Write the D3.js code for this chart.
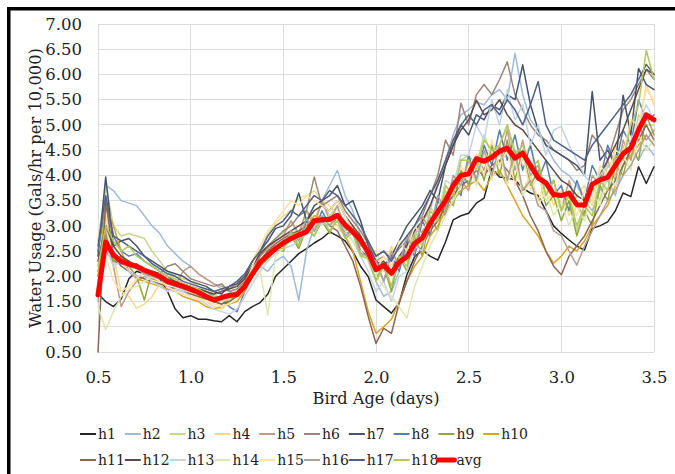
<!DOCTYPE html>
<html><head><meta charset="utf-8">
<script src="https://cdn.jsdelivr.net/npm/d3@7"></script>
<style>html,body{margin:0;padding:0;background:#fff;} svg{display:block}</style>
</head><body><svg id="c" width="675" height="474"></svg>
<script>
// ---- data ----
const xTicks = [0.5, 1.0, 1.5, 2.0, 2.5, 3.0, 3.5];
const yTicks = [0.5, 1.0, 1.5, 2.0, 2.5, 3.0, 3.5, 4.0, 4.5, 5.0, 5.5, 6.0, 6.5, 7.0];
const ageStart = 0.5, ageStep = 1 / 24; // hourly samples, in days

const h1 = [1.65,1.50,1.40,1.55,1.95,2.10,2.05,2.00,1.95,1.70,1.35,1.18,
  1.22,1.15,1.15,1.12,1.10,1.22,1.10,1.30,1.40,1.48,1.65,2.00,
  2.15,2.30,2.45,2.55,2.66,2.75,2.88,2.80,2.70,2.49,2.20,1.99,
  1.53,1.40,1.27,1.47,2.03,2.39,2.52,2.40,2.32,2.68,3.12,3.20,
  3.25,3.45,3.55,4.14,3.97,3.95,3.91,3.75,3.65,3.60,3.30,3.00,
  2.85,2.72,2.60,2.52,2.95,3.00,3.08,3.30,3.65,3.58,4.17,3.84,4.17];
const h2 = [2.50,3.80,3.70,3.50,3.45,3.40,3.20,3.00,2.85,2.60,2.45,2.30,
  2.20,2.05,1.95,1.85,1.75,1.70,1.60,1.80,2.00,2.20,2.10,2.30,
  2.40,2.20,1.53,2.50,3.00,3.50,3.80,4.10,3.60,3.30,2.80,2.30,
  1.90,1.60,1.70,2.10,2.60,2.80,3.10,3.30,3.90,4.30,4.80,5.20,
  5.30,5.45,5.40,5.60,5.70,5.50,6.42,5.60,5.10,4.90,4.60,4.30,
  4.10,4.00,3.80,3.50,3.30,3.70,3.90,3.60,4.20,4.50,4.30,4.60,4.40];
const h3 = [2.70,3.80,3.00,2.80,2.85,2.80,2.75,2.50,2.30,2.10,2.00,1.95,
  1.90,1.80,1.70,1.65,1.55,1.60,1.70,1.90,2.20,2.50,2.60,2.75,
  2.85,3.10,2.80,3.30,3.10,3.50,3.20,3.40,2.95,3.00,2.50,2.40,
  1.95,2.30,1.80,2.40,2.30,2.90,2.60,3.40,3.10,3.70,3.50,4.30,
  4.40,4.20,4.80,4.40,4.60,5.00,4.50,4.30,4.60,4.00,3.80,3.90,
  3.30,3.70,2.90,3.40,3.80,3.50,4.20,4.00,4.60,4.30,5.20,5.00,5.00];
const h4 = [2.20,3.20,2.40,1.70,1.60,1.37,1.45,1.60,1.85,1.70,1.80,1.75,
  1.70,1.60,1.50,1.40,1.35,1.50,1.65,1.95,2.30,2.60,2.85,3.05,
  3.20,3.30,3.55,3.60,3.70,3.50,3.40,3.20,3.00,2.85,2.70,2.50,
  2.50,2.10,2.60,2.20,2.80,2.50,3.20,2.90,3.50,3.30,4.00,3.80,
  4.40,3.90,4.50,4.00,4.60,3.90,4.40,3.70,4.00,3.50,3.90,3.40,
  3.70,3.20,3.60,3.80,3.40,4.10,3.90,4.60,4.30,5.10,4.90,5.80,5.40];
const h5 = [1.80,2.90,2.20,1.40,1.70,1.90,2.00,1.95,1.90,1.85,1.80,2.10,
  2.20,2.05,1.95,1.85,1.80,1.75,1.85,1.95,2.20,2.40,2.55,2.70,
  2.80,3.10,2.85,3.30,3.00,3.50,3.10,3.40,2.90,3.00,2.60,2.70,
  2.30,2.40,2.20,2.35,2.60,2.70,2.90,3.10,3.30,3.50,3.75,3.90,
  3.70,4.40,4.10,4.60,4.20,4.90,4.10,4.70,4.00,4.20,3.60,3.90,
  3.30,3.90,3.40,3.20,4.00,3.80,4.30,3.90,4.70,4.30,5.00,4.70,4.90];
const h6 = [2.00,2.50,2.30,2.25,2.20,2.25,2.10,2.00,2.05,2.20,2.25,2.10,
  1.95,1.90,1.85,1.80,1.85,1.70,1.75,1.90,2.10,2.40,2.60,2.75,
  2.90,3.00,3.20,3.30,3.97,3.40,3.50,3.60,3.30,3.10,2.90,2.65,
  2.40,2.50,2.35,2.55,2.70,3.00,3.20,3.60,4.00,4.70,4.40,5.43,
  5.00,5.60,5.80,5.60,5.90,6.25,5.60,5.30,5.00,4.80,4.70,4.50,
  4.40,4.30,4.10,4.20,4.80,4.60,4.30,4.80,5.30,5.50,5.80,6.10,5.90];
const h7 = [2.40,3.97,2.60,2.70,2.75,2.60,2.40,2.30,2.20,2.10,2.05,2.00,
  1.90,1.85,1.80,1.70,1.65,1.80,1.85,2.00,2.30,2.50,2.70,2.95,
  3.00,3.20,3.65,3.10,3.40,3.50,3.60,3.80,3.40,3.50,3.10,2.60,
  2.30,2.20,2.40,2.70,3.00,3.20,3.40,3.70,3.50,4.20,4.60,5.00,
  4.80,5.20,5.10,5.40,5.30,5.60,5.50,6.19,5.40,4.90,4.60,4.50,
  4.40,4.30,4.20,4.00,5.66,4.30,4.50,4.20,5.59,4.80,6.12,5.80,5.70];
const h8 = [2.50,3.40,2.80,2.50,2.40,2.45,2.30,2.20,2.10,2.00,1.90,1.85,
  1.80,1.75,1.70,1.60,1.55,1.40,1.30,1.70,2.00,2.30,2.50,2.60,
  2.60,2.90,2.60,3.10,2.90,3.30,3.00,3.20,2.80,2.90,2.50,2.40,
  2.30,1.90,2.40,2.10,2.70,2.40,3.10,2.80,3.50,3.20,3.90,3.60,
  4.40,3.90,4.60,4.20,4.90,4.30,4.80,4.10,4.60,3.90,4.30,3.60,
  3.80,3.30,3.90,3.50,4.20,3.90,4.60,4.20,4.90,4.60,5.50,5.10,5.20];
const h9 = [2.10,2.80,2.30,2.40,2.20,2.00,1.53,2.10,2.05,1.95,1.90,1.85,
  1.80,1.70,1.60,1.50,1.45,1.55,1.60,1.75,2.00,2.20,2.35,2.50,
  2.50,2.80,2.55,2.95,2.80,3.10,2.85,3.20,2.85,2.90,2.40,2.40,
  1.95,2.20,1.70,2.40,2.10,2.80,2.40,3.20,2.90,3.60,3.40,4.10,
  3.80,4.40,3.90,4.60,4.00,4.70,3.90,4.50,3.80,4.10,3.40,3.60,
  3.10,3.50,2.80,3.30,3.00,3.80,3.50,4.20,4.00,4.60,4.30,5.20,4.80];
const h10 = [2.00,3.40,3.00,2.50,2.10,1.95,1.90,1.85,1.80,1.75,1.70,1.60,
  1.55,1.50,1.40,1.35,1.40,1.45,1.50,1.70,2.00,2.30,2.50,2.60,
  2.70,2.80,2.90,3.00,3.20,3.15,3.10,3.00,2.80,2.50,1.90,1.30,
  0.87,1.00,1.15,1.50,1.90,2.20,2.40,2.80,3.00,3.30,3.50,3.70,
  3.80,3.90,3.70,4.00,4.10,3.80,3.50,3.20,3.00,2.80,2.50,2.26,
  2.40,2.60,2.50,2.70,3.00,3.20,3.40,3.80,4.20,4.40,4.60,4.80,4.60];
const h11 = [0.50,3.50,2.40,2.20,2.10,2.00,1.95,1.90,1.85,1.80,1.75,1.70,
  1.65,1.60,1.55,1.50,1.45,1.50,1.60,1.80,2.10,2.30,2.50,2.65,
  2.75,2.85,2.90,3.00,3.10,3.05,3.00,2.90,2.60,2.30,1.80,1.20,
  0.67,0.97,0.87,1.47,1.90,2.30,2.60,2.90,3.10,3.40,3.60,3.80,
  3.90,4.10,4.00,4.20,4.30,4.10,3.90,3.60,3.20,2.90,2.50,2.20,
  2.03,2.40,2.60,2.80,3.10,3.40,3.70,3.90,4.20,4.50,4.70,5.00,4.70];
const h12 = [2.30,3.00,2.60,2.40,2.30,2.20,2.15,2.10,2.05,1.95,1.90,1.85,
  1.80,1.75,1.70,1.65,1.70,1.75,1.80,1.95,2.20,2.45,2.60,2.70,
  2.80,2.90,3.00,3.10,3.30,3.40,3.30,3.50,3.20,3.00,2.80,2.50,
  2.20,2.30,2.10,2.40,2.60,2.90,3.10,3.40,3.80,4.20,4.60,4.90,
  5.10,5.49,5.20,5.30,5.50,5.20,5.00,4.90,4.70,4.50,4.30,4.10,
  3.90,3.80,3.60,3.50,3.80,4.00,4.30,4.60,4.90,5.30,5.70,6.10,6.00];
const h13 = [1.90,2.60,2.20,2.30,2.10,2.00,2.05,1.90,1.80,1.70,1.75,1.70,
  1.60,1.55,1.45,1.35,1.30,1.25,1.35,1.60,1.85,2.10,2.30,2.45,
  2.55,2.60,2.70,2.85,2.95,3.05,3.00,3.10,2.90,2.70,2.40,2.10,
  1.70,1.90,1.50,2.00,2.10,2.60,2.50,3.20,3.20,3.90,3.80,4.40,
  4.40,5.00,4.70,5.50,5.00,5.70,5.10,5.40,4.60,5.00,4.40,4.90,
  4.97,4.60,4.30,4.00,3.80,4.00,4.20,4.30,4.50,4.70,5.00,5.40,5.10];
const h14 = [1.40,0.94,1.30,1.60,1.75,1.80,1.90,2.00,2.05,1.95,1.85,1.80,
  1.75,1.70,1.60,1.55,1.50,1.55,1.65,1.85,2.00,2.10,1.23,2.40,
  2.55,2.70,2.80,2.85,3.00,3.10,3.05,3.00,2.85,2.70,2.50,2.30,
  2.00,1.80,1.60,1.40,1.17,1.80,2.20,2.60,2.90,3.20,3.50,3.80,
  4.20,3.80,4.40,3.90,4.50,3.80,4.30,3.60,3.90,3.40,3.70,3.20,
  3.50,3.00,3.40,3.10,3.70,3.40,4.00,3.80,4.40,4.10,4.80,4.50,4.70];
const h15 = [1.70,2.40,1.90,1.70,1.80,1.95,2.10,2.00,1.90,1.80,1.70,1.65,
  1.60,1.55,1.50,1.45,1.40,1.45,1.55,1.80,2.20,2.60,2.90,3.10,
  3.30,3.50,3.40,3.60,3.50,3.40,3.30,3.50,3.20,2.90,2.70,2.40,
  2.10,2.40,2.20,2.70,2.50,3.00,2.80,3.30,3.30,3.80,3.60,4.20,
  3.90,4.40,4.00,4.70,4.20,4.50,3.80,4.40,3.70,4.00,3.50,3.70,
  3.30,3.60,3.20,3.70,3.50,4.20,4.00,4.50,4.40,5.10,5.00,5.70,5.50];
const h16 = [1.50,2.70,2.50,2.30,2.20,2.15,2.05,2.00,1.95,1.85,1.80,1.75,
  1.70,1.65,1.60,1.55,1.60,1.65,1.70,1.85,2.05,2.30,2.45,2.60,
  2.60,2.90,2.70,3.15,2.90,3.20,3.00,3.20,2.80,2.90,2.45,2.40,
  2.30,1.90,2.50,2.20,2.80,2.50,3.20,2.90,3.60,3.30,4.00,3.80,
  4.30,3.90,4.50,4.00,4.60,3.90,4.50,3.70,3.90,3.40,3.30,2.90,
  2.80,2.50,2.22,2.60,2.90,3.20,3.50,3.70,4.00,4.20,4.50,4.80,4.60];
const h17 = [2.60,3.60,2.80,2.70,2.60,2.50,2.40,2.25,2.15,2.05,2.00,1.90,
  1.85,1.80,1.75,1.70,1.75,1.80,1.90,2.05,2.30,2.50,2.80,3.00,
  3.10,3.30,3.20,3.40,3.60,3.50,3.70,3.60,3.40,3.20,3.00,2.70,
  2.40,2.50,2.30,2.60,2.80,3.00,3.30,3.60,3.90,4.30,4.70,5.00,
  5.20,5.00,5.30,5.40,5.20,5.50,5.30,5.00,5.40,5.86,5.00,4.70,
  4.60,4.50,4.40,4.30,4.60,4.80,5.00,5.20,5.40,5.60,5.90,6.20,6.00];
const h18 = [2.20,3.00,2.70,2.50,2.60,2.40,2.30,2.20,2.10,2.00,1.95,1.85,
  1.80,1.75,1.65,1.60,1.55,1.60,1.65,1.80,2.00,2.25,2.40,2.55,
  2.55,2.85,2.60,3.00,2.80,3.15,2.90,3.10,2.75,2.85,2.40,2.35,
  1.90,2.20,1.80,2.40,2.20,2.80,2.60,3.30,3.10,3.80,3.60,4.30,
  4.30,4.10,4.70,4.50,4.60,5.00,4.40,4.60,4.10,4.30,3.60,3.90,
  3.30,3.60,3.00,3.40,3.20,3.90,3.70,4.40,4.30,5.00,5.40,6.48,5.90];
const avg = [1.63,2.68,2.42,2.30,2.24,2.20,2.12,2.06,2.00,1.90,1.85,1.80,
  1.74,1.68,1.60,1.53,1.58,1.62,1.64,1.80,2.05,2.28,2.42,2.55,
  2.66,2.75,2.82,2.88,3.10,3.12,3.13,3.21,3.02,2.88,2.72,2.47,
  2.13,2.22,2.06,2.28,2.39,2.65,2.76,3.05,3.28,3.50,3.80,4.00,
  4.03,4.33,4.28,4.36,4.48,4.54,4.34,4.44,4.20,3.95,3.85,3.62,
  3.60,3.65,3.42,3.41,3.82,3.91,3.96,4.20,4.43,4.55,4.90,5.20,5.10];

const seriesNames = ["h1","h2","h3","h4","h5","h6","h7","h8","h9","h10",
  "h11","h12","h13","h14","h15","h16","h17","h18","avg"];
const seriesValues = [h1,h2,h3,h4,h5,h6,h7,h8,h9,h10,h11,h12,h13,h14,h15,h16,h17,h18,avg];
const seriesColors = ["#262626","#9dbbd8","#c5d98c","#f8d98a","#c49a86","#9c8578","#44546a","#5b7fab","#8fa83a","#d9a420",
  "#8c6652","#5e4a42","#c2d3e6","#dde8b0","#fbe2a6","#b0a098","#4f5f85","#b2c95a","#ff0000"];

// ---- layout ----
const svg = d3.select("#c");
const FONT = "'DejaVu Serif', Georgia, serif";
const L = 98, R = 654, T = 24, B = 352;
const x = d3.scaleLinear().domain([0.5, 3.5]).range([L, R]);
const y = d3.scaleLinear().domain([0.5, 7.0]).range([B, T]);

svg.append("rect").attr("width", 675).attr("height", 474).attr("fill", "#fff");

// gridlines
svg.append("g").selectAll("line").data(yTicks).join("line")
  .attr("x1", L).attr("x2", R).attr("y1", d => y(d)).attr("y2", d => y(d))
  .attr("stroke", "#dcdcdc").attr("stroke-width", 1).attr("shape-rendering", "crispEdges");
svg.append("g").selectAll("line").data(xTicks).join("line")
  .attr("y1", T).attr("y2", B).attr("x1", d => x(d)).attr("x2", d => x(d))
  .attr("stroke", "#dcdcdc").attr("stroke-width", 1).attr("shape-rendering", "crispEdges");

// axes labels
const yAxis = svg.append("g").attr("transform", `translate(${L},0)`)
  .call(d3.axisLeft(y).tickValues(yTicks).tickFormat(d3.format(".2f")).tickSize(0).tickPadding(16));
yAxis.select(".domain").remove();
yAxis.selectAll("text").attr("font-family", FONT).attr("font-size", 16.5).attr("fill", "#222");

const xAxis = svg.append("g").attr("transform", `translate(0,${B})`)
  .call(d3.axisBottom(x).tickValues(xTicks).tickFormat(d3.format(".1f")).tickSize(0).tickPadding(19));
xAxis.select(".domain").remove();
xAxis.selectAll("text").attr("font-family", FONT).attr("font-size", 16.5).attr("fill", "#222");

// axis titles
const yt = svg.append("text").attr("transform", "translate(41,188) rotate(-90)")
  .attr("text-anchor", "middle").attr("font-family", FONT).attr("font-size", 16).attr("fill", "#222")
  .text("Water Usage (Gals/hr per 10,000)");
const ytl = yt.node().getComputedTextLength();
yt.attr("font-size", 16 * 280 / ytl);
const xt = svg.append("text").attr("x", 376).attr("y", 404)
  .attr("text-anchor", "middle").attr("font-family", FONT).attr("font-size", 16).attr("fill", "#222")
  .text("Bird Age (days)");
xt.attr("font-size", 16 * 127 / xt.node().getComputedTextLength());

// lines
const line = d3.line().x((d, i) => x(ageStart + i * ageStep)).y(d => y(d));
const g = svg.append("g");
seriesValues.forEach((vals, k) => {
  const isAvg = seriesNames[k] === "avg";
  g.append("path").datum(vals).attr("d", line).attr("fill", "none")
    .attr("stroke", seriesColors[k]).attr("stroke-width", isAvg ? 5 : 1.5)
    .attr("stroke-linejoin", "round").attr("stroke-linecap", "round");
});

// legend
const legend = svg.append("g");
const colW = 44.8, lx0 = 80, rowY = [434, 460];
seriesNames.forEach((name, k) => {
  const row = k < 10 ? 0 : 1, col = k < 10 ? k : k - 10;
  const gx = lx0 + col * colW, gy = rowY[row];
  const isAvg = name === "avg";
  legend.append("line").attr("x1", gx).attr("x2", gx + 16).attr("y1", gy).attr("y2", gy)
    .attr("stroke", seriesColors[k]).attr("stroke-width", isAvg ? 5 : 2)
    .attr("stroke-linecap", isAvg ? "round" : "butt");
  legend.append("text").attr("x", gx + 18).attr("y", gy).attr("dy", "0.35em")
    .attr("font-family", FONT).attr("font-size", 14).attr("fill", "#222").text(name);
});

// frame
svg.append("rect").attr("x", 8.75).attr("y", 8.75).attr("width", 1000).attr("height", 1000)
  .attr("fill", "none").attr("stroke", "#000").attr("stroke-width", 3.5);
</script></body></html>
